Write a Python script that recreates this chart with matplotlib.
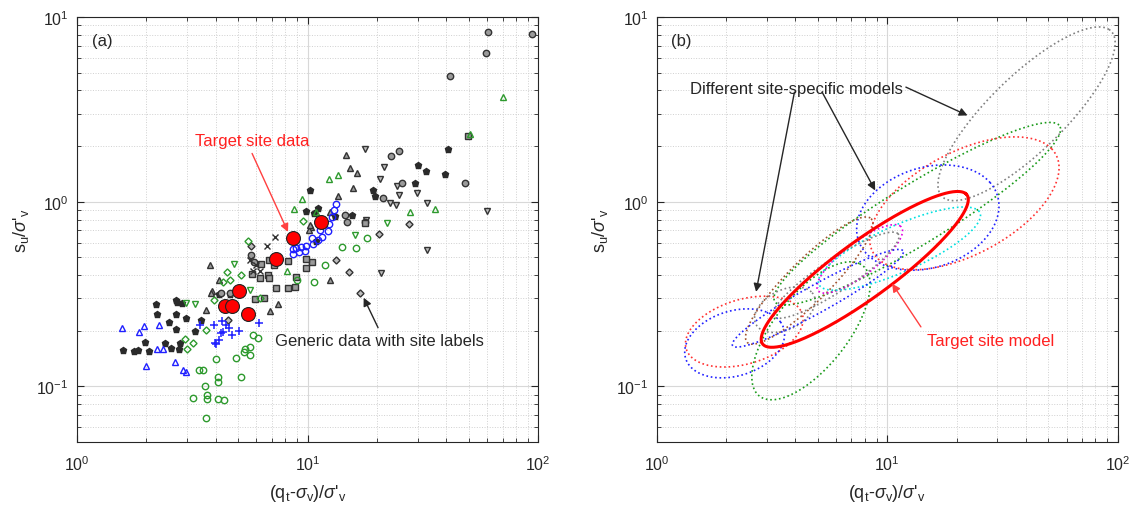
import numpy as np
import matplotlib.pyplot as plt
from matplotlib.ticker import LogLocator, NullFormatter

plt.rcParams['font.family'] = ['Liberation Sans', 'DejaVu Sans']
plt.rcParams['mathtext.fontset'] = 'custom'
plt.rcParams['mathtext.rm'] = 'Liberation Sans'
plt.rcParams['mathtext.it'] = 'Liberation Sans:italic'

# ---- panel (a) data : (qt-sv)/s'v , su/s'v ----
target_x = [11.46, 8.61, 7.29, 5.04, 4.40, 4.70, 5.54]
target_y = [0.777, 0.637, 0.488, 0.329, 0.274, 0.274, 0.246]

blue_tri_x = [1.57, 1.86, 1.95, 2.27, 1.99, 2.23, 2.36, 2.67, 2.87, 2.96]
blue_tri_y = [0.206, 0.198, 0.212, 0.216, 0.129, 0.159, 0.159, 0.136, 0.122, 0.120]

blue_plus_x = [3.43, 3.93, 4.26, 4.44, 4.23, 4.70, 5.04, 6.15, 3.96, 4.13, 4.30, 4.02, 4.57]
blue_plus_y = [0.215, 0.215, 0.226, 0.216, 0.194, 0.189, 0.199, 0.221, 0.171, 0.178, 0.196, 0.169, 0.206]

blue_circ_x = [13.3, 13.0, 12.7, 12.4, 12.2, 11.6, 11.1, 10.5, 9.87, 9.39, 8.93, 8.64, 9.17, 9.70, 10.4, 11.3, 8.64]
blue_circ_y = [0.975, 0.90, 0.826, 0.76, 0.69, 0.644, 0.618, 0.593, 0.576, 0.569, 0.562, 0.557, 0.535, 0.539, 0.636, 0.70, 0.524]

green_circ_x = [5.80, 6.10, 5.61, 5.34, 5.28, 5.65, 4.88, 4.02, 3.39, 3.52, 4.09, 4.09, 5.16, 3.58, 3.19,
                3.67, 3.67, 4.09, 4.34, 3.64, 18.1, 16.2, 14.1, 10.7, 9.0, 11.9]
green_circ_y = [0.189, 0.183, 0.164, 0.159, 0.153, 0.147, 0.143, 0.141, 0.122, 0.122, 0.113, 0.106, 0.113, 0.100, 0.087,
                0.0898, 0.0855, 0.0855, 0.0843, 0.0677, 0.636, 0.564, 0.571, 0.368, 0.376, 0.456]

green_dia_x = [5.52, 4.48, 4.30, 4.59, 5.16, 2.94, 3.19, 3.00, 3.62, 9.55, 3.92, 6.2]
green_dia_y = [0.61, 0.417, 0.368, 0.376, 0.403, 0.18, 0.171, 0.159, 0.202, 0.789, 0.293, 0.301]

green_tri_x = [12.4, 13.5, 9.48, 8.73, 10.9, 70.5, 50.8, 27.9, 35.5, 8.17]
green_tri_y = [1.33, 1.39, 1.04, 0.917, 0.88, 3.68, 2.33, 0.88, 0.908, 0.42]

green_tdn_x = [22.1, 16.1, 4.78, 5.61, 2.96, 3.24]
green_tdn_y = [0.767, 0.657, 0.458, 0.332, 0.283, 0.281]

gray_tri_x = [14.6, 15.3, 16.4, 15.7, 13.5, 12.5, 10.3, 10.1, 3.77, 3.83, 4.13, 3.80, 3.64, 6.90, 7.44, 12.5, 10.2]
gray_tri_y = [1.80, 1.52, 1.43, 1.18, 1.08, 0.88, 0.73, 0.70, 0.453, 0.327, 0.376, 0.321, 0.258, 0.255, 0.279, 0.379, 0.751]

gray_tdn_x = [17.8, 21.4, 20.5, 24.4, 25.0, 29.9, 32.8, 22.8, 24.2, 59.7, 32.8, 20.8, 17.9]
gray_tdn_y = [1.92, 1.54, 1.32, 1.22, 1.09, 1.12, 0.98, 0.98, 0.955, 0.891, 0.545, 0.413, 0.792]

gray_circ_x = [60.8, 59.4, 41.5, 93.5, 24.8, 23.0, 25.6, 21.2, 14.5, 17.7, 14.8, 48.2, 4.23, 4.59, 5.84, 5.70]
gray_circ_y = [8.33, 6.39, 4.78, 8.09, 1.87, 1.76, 1.26, 1.05, 0.843, 0.777, 0.777, 1.26, 0.322, 0.322, 0.472, 0.513]

gray_sq_x = [6.73, 6.80, 7.32, 8.22, 8.78, 8.22, 8.93, 9.87, 6.20, 5.76, 5.94, 6.45, 10.4, 9.87, 17.7, 7.15, 6.30, 6.80, 49.6]
gray_sq_y = [0.40, 0.384, 0.342, 0.339, 0.346, 0.478, 0.392, 0.435, 0.387, 0.408, 0.299, 0.302, 0.472, 0.488, 0.77, 0.453, 0.458, 0.486, 2.27]

gray_x_x = [7.2, 6.67, 5.61, 6.24, 6.0, 5.80]
gray_x_y = [0.644, 0.576, 0.482, 0.42, 0.453, 0.42]

gray_dia_x = [27.5, 20.4, 15.1, 13.3, 16.8, 5.70, 4.52]
gray_dia_y = [0.754, 0.671, 0.417, 0.482, 0.322, 0.573, 0.228]

star_x = [2.20, 2.23, 2.70, 2.51, 2.96, 2.68, 3.24, 1.98, 1.58, 1.77, 1.84, 2.06, 2.40, 2.55, 2.76, 2.79, 2.84, 2.72, 3.44,
          10.2, 9.87, 19.3, 30.0, 32.6, 39.5, 40.5, 19.5, 29.1, 11.1, 10.7, 13.2, 15.5, 10.9, 4.13, 4.59, 2.70]
star_y = [0.281, 0.246, 0.248, 0.223, 0.235, 0.204, 0.199, 0.175, 0.157, 0.155, 0.157, 0.155, 0.171, 0.162, 0.160, 0.172, 0.283, 0.287, 0.228,
          1.16, 0.891, 1.15, 1.57, 1.46, 1.42, 1.92, 1.07, 1.26, 0.925, 0.869, 0.837, 0.843, 0.61, 0.318, 0.315, 0.293]

# ---- panel (b) : ellipses in log10 space (centre x, centre y, semi-axes in decades, angle deg) ----
ell_cx = [40.2, 13.5, 21.6, 15.0, 2.40, 2.18, 4.67, 4.59, 7.6, 11.3, 3.6, 6.0, 5.0]
ell_cy = [2.99, 0.86, 0.98, 0.82, 0.198, 0.171, 0.20, 0.374, 0.49, 0.557, 0.26, 0.40, 0.30]
ell_a = [0.58, 0.78, 0.48, 0.33, 0.27, 0.23, 0.42, 0.43, 0.25, 0.40, 0.15, 0.35, 0.45]
ell_b = [0.18, 0.15, 0.26, 0.26, 0.17, 0.17, 0.17, 0.10, 0.08, 0.12, 0.10, 0.08, 0.07]
ell_ang = [52, 38, 38, 35, 25, 30, 60, 52, 45, 30, 40, 40, 35]
ell_col = ['#808080', '#1a9a1a', '#ff3030', '#2020ff', '#ff3030', '#2020ff', '#1a9a1a',
           '#a0522d', '#e000e0', '#00e0e0', '#808080', '#808080', '#2020ff']

target_ell = (7.99, 0.43, 0.60, 0.14, 43)


def ellipse(cx, cy, a, b, ang):
    t = np.linspace(0, 2 * np.pi, 300)
    th = np.radians(ang)
    lx = np.log10(cx) + a * np.cos(t) * np.cos(th) - b * np.sin(t) * np.sin(th)
    ly = np.log10(cy) + a * np.cos(t) * np.sin(th) + b * np.sin(t) * np.cos(th)
    return 10 ** lx, 10 ** ly


def style_axes(ax):
    ax.set_xscale('log')
    ax.set_yscale('log')
    ax.set_xlim(1, 100)
    ax.set_ylim(0.05, 10)
    ax.xaxis.set_major_locator(LogLocator(base=10, numticks=5))
    ax.yaxis.set_major_locator(LogLocator(base=10, numticks=5))
    ax.yaxis.set_minor_formatter(NullFormatter())
    ax.xaxis.set_minor_formatter(NullFormatter())
    ax.grid(True, which='major', color='#d8d8d8', lw=0.8, ls='-')
    ax.grid(True, which='minor', color='#d0d0d0', lw=0.7, ls=':')
    ax.set_axisbelow(True)
    ax.tick_params(which='both', direction='in', top=True, right=True, colors='#262626', labelsize=11.5)
    ax.tick_params(axis='x', which='major', length=5, pad=9)
    ax.tick_params(axis='y', which='major', length=5, pad=6)
    ax.tick_params(which='minor', length=3)
    for s in ax.spines.values():
        s.set_color('#262626')
    ax.set_xlabel(r"(q$_{\rm t}$-$\sigma_{\rm v}$)/$\sigma$'$_{\rm v}$", fontsize=13, color='#262626', labelpad=6)
    ax.set_ylabel(r"s$_{\rm u}$/$\sigma$'$_{\rm v}$", fontsize=13, color='#262626')


fig = plt.figure(figsize=(11.36, 5.06), dpi=100)
ax1 = fig.add_axes([0.0678, 0.1245, 0.406, 0.84])
ax2 = fig.add_axes([0.578, 0.1245, 0.406, 0.84])

ms = 4.6
dk = '#333333'
gfill = '#9a9a9a'
grn = '#2e9a2e'
ax1.plot(star_x, star_y, 'p', ms=ms, mfc='#2a2a2a', mec='#2a2a2a', ls='none')
ax1.plot(gray_tri_x, gray_tri_y, '^', ms=ms, mfc=gfill, mec=dk, mew=1.0, ls='none')
ax1.plot(gray_tdn_x, gray_tdn_y, 'v', ms=ms, mfc='#bdbdbd', mec=dk, mew=1.0, ls='none')
ax1.plot(gray_circ_x, gray_circ_y, 'o', ms=ms, mfc=gfill, mec=dk, mew=1.0, ls='none')
ax1.plot(gray_sq_x, gray_sq_y, 's', ms=ms - 0.8, mfc=gfill, mec=dk, mew=1.0, ls='none')
ax1.plot(gray_x_x, gray_x_y, 'x', ms=ms, mec=dk, mew=1.0, ls='none')
ax1.plot(gray_dia_x, gray_dia_y, 'D', ms=ms - 1, mfc='#bdbdbd', mec=dk, mew=1.0, ls='none')
ax1.plot(green_circ_x, green_circ_y, 'o', ms=ms, mfc='none', mec=grn, mew=1.0, ls='none')
ax1.plot(green_dia_x, green_dia_y, 'D', ms=ms - 1, mfc='none', mec=grn, mew=1.0, ls='none')
ax1.plot(green_tri_x, green_tri_y, '^', ms=ms, mfc='none', mec=grn, mew=1.0, ls='none')
ax1.plot(green_tdn_x, green_tdn_y, 'v', ms=ms, mfc='none', mec=grn, mew=1.0, ls='none')
ax1.plot(blue_tri_x, blue_tri_y, '^', ms=ms, mfc='none', mec='#2020ff', mew=1.0, ls='none')
ax1.plot(blue_circ_x, blue_circ_y, 'o', ms=ms, mfc='none', mec='#2020ff', mew=1.0, ls='none')
ax1.plot(blue_plus_x, blue_plus_y, '+', ms=ms + 1.5, mec='#2020ff', mew=1.1, ls='none')
ax1.plot(target_x, target_y, 'o', ms=10, mfc='#ff0000', mec='#222222', mew=0.8, ls='none')

ax1.text(1.16, 7.5, '(a)', fontsize=12, color='#262626', va='center')
ax1.annotate('Target site data', xy=(8.22, 0.686), xytext=(3.24, 2.14), color='#ff2020', fontsize=12,
             va='center', arrowprops=dict(arrowstyle='-|>', color='#ff4040', lw=1.0, shrinkA=2, shrinkB=0,
                                          mutation_scale=12, relpos=(0.48, 0.0)))
ax1.annotate('', xy=(17.5, 0.302), xytext=(20.2, 0.208),
             arrowprops=dict(arrowstyle='-|>', color='#262626', lw=1.0, mutation_scale=12, shrinkA=0, shrinkB=0))
ax1.text(7.2, 0.178, 'Generic data with site labels', fontsize=12, color='#262626', va='center')
style_axes(ax1)

for cx, cy, a, b, ang, c in zip(ell_cx, ell_cy, ell_a, ell_b, ell_ang, ell_col):
    ex, ey = ellipse(cx, cy, a, b, ang)
    ax2.plot(ex, ey, ls=':', color=c, lw=1.2)
ex, ey = ellipse(*target_ell)
ax2.plot(ex, ey, '-', color='#ff0000', lw=2.2)

ax2.text(1.16, 7.5, '(b)', fontsize=12, color='#262626', va='center')
ax2.text(1.39, 4.08, 'Different site-specific models', fontsize=12, color='#262626', va='center')
for (x0, y0), (x1, y1) in [((12.05, 4.17), (22.3, 2.93)), ((5.22, 3.92), (8.87, 1.15)), ((3.96, 3.92), (2.70, 0.325))]:
    ax2.annotate('', xy=(x1, y1), xytext=(x0, y0),
                 arrowprops=dict(arrowstyle='-|>', color='#262626', lw=1.0, mutation_scale=12, shrinkA=0, shrinkB=0))
ax2.annotate('', xy=(10.5, 0.36), xytext=(14.0, 0.21),
             arrowprops=dict(arrowstyle='-|>', color='#ff4040', lw=1.0, mutation_scale=12, shrinkA=0, shrinkB=0))
ax2.text(14.9, 0.178, 'Target site model', fontsize=12, color='#ff2020', va='center')
style_axes(ax2)

fig.savefig('out.png', dpi=100)
